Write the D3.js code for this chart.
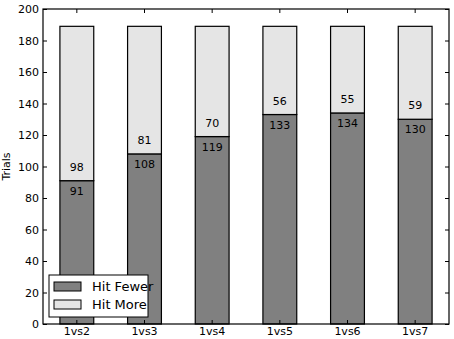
<!DOCTYPE html>
<html>
<head>
<meta charset="utf-8">
<script src="https://cdn.jsdelivr.net/npm/d3@7"></script>
<style>
  body { margin: 0; background: #fff; }
  svg { font-family: "DejaVu Sans", sans-serif; }
</style>
</head>
<body>
<svg width="454" height="339"></svg>
<script>
// chart data
const categories = ['1vs2', '1vs3', '1vs4', '1vs5', '1vs6', '1vs7'];
const hitFewer = [91, 108, 119, 133, 134, 130];
const hitMore = [98, 81, 70, 56, 55, 59];
const yTicks = [0, 20, 40, 60, 80, 100, 120, 140, 160, 180, 200];

const svg = d3.select('svg');
const margin = {top: 9, right: 5, bottom: 15, left: 43};
const width = 454 - margin.left - margin.right;
const height = 339 - margin.top - margin.bottom;

const g = svg.append('g').attr('transform', `translate(${margin.left},${margin.top})`);

const x = d3.scaleBand().domain(categories).range([0, width]).paddingInner(0.5).paddingOuter(0.25);
const y = d3.scaleLinear().domain([0, 200]).range([height, 0]);

const dark = '#808080';
const light = '#e5e5e5';

// bars
categories.forEach((c, i) => {
  const x0 = x(c);
  const bw = x.bandwidth();
  const lo = hitFewer[i];
  const hi = hitMore[i];
  g.append('rect')
    .attr('x', x0).attr('y', y(lo))
    .attr('width', bw).attr('height', y(0) - y(lo))
    .attr('fill', dark).attr('stroke', '#000').attr('stroke-width', 1.2);
  g.append('rect')
    .attr('x', x0).attr('y', y(lo + hi))
    .attr('width', bw).attr('height', y(lo) - y(lo + hi))
    .attr('fill', light).attr('stroke', '#000').attr('stroke-width', 1.2);
  g.append('text')
    .attr('x', x0 + bw / 2).attr('y', y(lo) + 14)
    .attr('text-anchor', 'middle').attr('font-size', 11).text(lo);
  g.append('text')
    .attr('x', x0 + bw / 2).attr('y', y(lo) - 10)
    .attr('text-anchor', 'middle').attr('font-size', 11).text(hi);
});

// axes, ticks pointing inward on all four sides
const styleAxis = sel => {
  sel.select('.domain').remove();
  sel.selectAll('.tick line').attr('stroke', '#000');
  sel.selectAll('.tick text').attr('font-size', 11).attr('fill', '#000')
    .attr('font-family', '"DejaVu Sans", sans-serif');
};

g.append('g').attr('transform', `translate(0,${height})`)
  .call(d3.axisBottom(x).tickSizeInner(-4).tickSizeOuter(0).tickPadding(3))
  .call(styleAxis);
g.append('g')
  .call(d3.axisTop(x).tickSizeInner(-4).tickSizeOuter(0).tickFormat(''))
  .call(styleAxis);
g.append('g')
  .call(d3.axisLeft(y).tickValues(yTicks).tickSizeInner(-4).tickSizeOuter(0).tickPadding(4))
  .call(styleAxis);
g.append('g').attr('transform', `translate(${width},0)`)
  .call(d3.axisRight(y).tickValues(yTicks).tickSizeInner(-4).tickSizeOuter(0).tickFormat(''))
  .call(styleAxis);

g.append('rect')
  .attr('width', width).attr('height', height)
  .attr('fill', 'none').attr('stroke', '#000').attr('stroke-width', 1.2);

// y label
svg.append('text')
  .attr('transform', `translate(10,${margin.top + height / 2}) rotate(-90)`)
  .attr('text-anchor', 'middle').attr('font-size', 11).text('Trials');

// legend
const legend = g.append('g').attr('transform', 'translate(6,266)');
legend.append('rect')
  .attr('width', 99).attr('height', 42)
  .attr('fill', '#fff').attr('stroke', '#000').attr('stroke-width', 1);
const legendItems = [
  {label: 'Hit Fewer', color: dark},
  {label: 'Hit More', color: light}
];
legendItems.forEach((d, i) => {
  legend.append('rect')
    .attr('x', 5).attr('y', 7 + i * 18)
    .attr('width', 27).attr('height', 9)
    .attr('fill', d.color).attr('stroke', '#000').attr('stroke-width', 1);
  legend.append('text')
    .attr('x', 43).attr('y', 16 + i * 18)
    .attr('font-size', 13).text(d.label);
});
</script>
</body>
</html>
